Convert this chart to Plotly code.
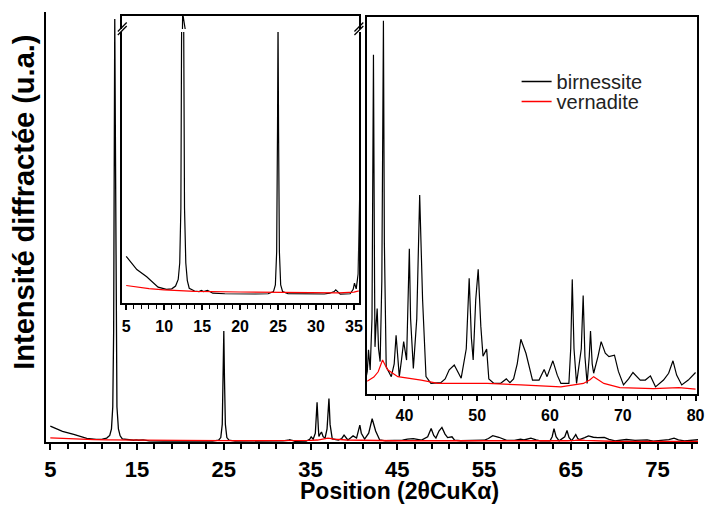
import plotly.graph_objects as go

# ---------------- data ----------------
birn_2theta = [5.0, 5.5, 6.4, 7.7, 8.5, 9.2, 10.3, 11.0, 11.5, 11.85, 12.05, 12.2, 12.3, 12.37,
               12.43, 12.5, 12.57, 12.68, 12.85, 13.05, 13.3, 14.0, 14.6, 14.9, 15.2, 15.7, 16.0,
               16.4, 18.0, 20.2, 22.0, 23.7, 24.4, 24.65, 24.82, 24.93, 25.0, 25.07, 25.18, 25.35,
               25.6, 26.3, 28.0, 31.1, 31.8, 32.4, 32.6, 32.8, 33.2, 34.5, 34.9, 35.07, 35.3, 35.55,
               35.75, 35.9, 35.96, 36.1, 36.26, 36.45, 36.67, 36.9, 37.05, 37.12, 37.25, 37.5, 38.2,
               38.6, 38.86, 39.1, 39.3, 39.6, 39.9, 40.3, 40.55, 40.68, 40.85, 41.23, 41.7, 42.1,
               42.5, 42.97, 43.65, 45.0, 45.6, 46.16, 46.85, 47.3, 47.8, 48.5, 48.9, 49.2, 49.45,
               49.8, 50.14, 50.5, 50.8, 51.3, 51.6, 52.3, 53.2, 54.0, 54.5, 55.0, 55.5, 56.0, 56.7,
               57.6, 58.5, 59.2, 59.6, 60.4, 61.0, 61.5, 62.6, 62.85, 63.06, 63.3, 63.65, 64.3,
               64.56, 64.8, 65.1, 65.4, 65.57, 65.8, 66.0, 66.6, 67.03, 67.6, 68.1, 68.86, 69.4,
               70.1, 70.8, 71.4, 72.4, 73.1, 73.8, 74.5, 75.6, 76.3, 76.9, 77.4, 78.1, 79.0, 80.0]
birn_intensity = [36, 32, 24, 17.5, 12, 8, 6, 6.5, 9, 15, 30, 80, 250, 700,
                  961, 700, 250, 80, 30, 14, 7, 4.5, 4, 5, 4, 5, 4,
                  2.5, 2, 1.6, 1.8, 2, 4, 10, 40, 150, 252, 150, 40, 10,
                  4, 2.2, 2, 1.8, 2.5, 4, 5.5, 4, 1.6, 2, 6, 11.7, 6.4, 20,
                  90, 30, 12.5, 18, 22.7, 12, 8.6, 30, 90, 99, 40, 7.2, 4.6,
                  8, 15.6, 8, 4.6, 9, 13.9, 9, 25, 38.5, 20, 6.8, 20, 52.8,
                  25, 4.6, 2.8, 3, 4, 6.4, 7.7, 6, 4.2, 12, 30.7, 15, 9,
                  25, 33.1, 18, 10, 11.9, 4, 2.8, 2.8, 4, 3, 4, 8, 14.5, 10.8,
                  3.7, 3.7, 6.5, 4.6, 8.8, 5, 2.8, 2.8, 12, 30.4, 12, 2.8, 12,
                  26.1, 10, 2.8, 10, 16.7, 8, 5.5, 10, 13.9, 10.8, 9.9, 10.3, 6,
                  2.4, 4, 5.7, 3.7, 3.7, 4.8, 1.9, 3.7, 5.5, 8.8, 5, 2.4, 3.7, 5.7]

vern_2theta = [5, 6, 7, 8, 10, 11.6, 14, 20, 25, 30, 33, 35, 35.8, 36.4, 37.0, 37.4, 37.7, 39.1,
               42.3, 44.6, 51.4, 56, 61.5, 64.6, 65.5, 66.0, 66.6, 67.4, 69.6, 74.2, 77.7, 80]
vern_intensity = [9.5, 8.5, 7.5, 6.6, 5.6, 4.8, 4.2, 3.6, 3.2, 2.9, 2.8, 3.5, 4.5, 5.9, 9.0, 7.5,
                  6.4, 4.6, 3.7, 2.8, 2.8, 2.4, 1.9, 2.8, 3.8, 4.6, 3.8, 2.8, 1.7, 1.4, 1.7, 1.3]

series_names = ["birnessite", "vernadite"]
series_colors = ["#000000", "#ff0000"]

main_xticks = [5, 15, 25, 35, 45, 55, 65, 75]
inset1_xticks = [5, 10, 15, 20, 25, 30, 35]
inset2_xticks = [40, 50, 60, 70, 80]

# ---------------- layout helpers ----------------
W, H = 706, 506


def px_x(p):
    return p / W


def px_y(p):
    return (H - p) / H


FONT = "Liberation Sans, Arial, sans-serif"

fig = go.Figure()

series = [(birn_2theta, birn_intensity), (vern_2theta, vern_intensity)]
legend_ids = ["legend", "legend2"]
axes_sets = [("x", "y", True), ("x2", "y2", False), ("x3", "y3", False), ("x4", "y4", False)]
for xa, ya, show in axes_sets:
    for (xs, ys), name, col, lg in zip(series, series_names, series_colors, legend_ids):
        fig.add_trace(go.Scatter(
            x=xs, y=ys, mode="lines", name=name, xaxis=xa, yaxis=ya,
            line=dict(color=col, width=1.3 if show else 1.2),
            showlegend=show, legend=lg, hoverinfo="skip"))

axis_common = dict(showgrid=False, zeroline=False, linecolor="black")
legend_common = dict(xanchor="left", yanchor="top",
                     font=dict(family=FONT, size=20, color="#222222"),
                     bgcolor="rgba(0,0,0,0)", itemwidth=30, tracegroupgap=0)

fig.update_layout(
    width=W, height=H,
    margin=dict(l=0, r=0, t=0, b=0),
    paper_bgcolor="white", plot_bgcolor="white",
    showlegend=True,
    legend=dict(x=px_x(522), y=px_y(62), **legend_common),
    legend2=dict(x=px_x(522), y=px_y(82), **legend_common),
    # main
    xaxis=dict(domain=[px_x(45), 1.0], range=[4.545, 79.66], anchor="y",
               showline=True, linewidth=2, mirror=False,
               tickmode="array", tickvals=main_xticks, ticktext=[str(v) for v in main_xticks],
               ticks="outside", ticklen=6, tickwidth=2, tickcolor="black",
               minor=dict(dtick=2, tick0=5, ticks="outside", ticklen=5, tickwidth=1.5, tickcolor="black"),
               tickfont=dict(family=FONT, size=22, color="black", weight="bold"),
               ticklabelstandoff=1, **axis_common),
    yaxis=dict(domain=[px_y(442), px_y(12)], range=[0, 977], anchor="x",
               showline=True, linewidth=2, showticklabels=False, ticks="", **axis_common),
    # inset 1 (lower part)
    xaxis2=dict(domain=[px_x(122), px_x(362)], range=[4.48, 35.65], anchor="y2",
                showline=True, linewidth=1.8, mirror=False,
                tickmode="array", tickvals=inset1_xticks, ticktext=[str(v) for v in inset1_xticks],
                ticks="outside", ticklen=5, tickwidth=1.5, tickcolor="black",
                minor=dict(dtick=1, tick0=0, ticks="outside", ticklen=4, tickwidth=1.2, tickcolor="black"),
                tickfont=dict(family=FONT, size=16, color="black", weight="bold"),
                ticklabelstandoff=3, ticklabeloverflow="allow", **axis_common),
    yaxis2=dict(domain=[px_y(303), px_y(32)], range=[-6.4, 240], anchor="x2",
                showline=True, linewidth=1.8, mirror=True, showticklabels=False, ticks="",
                **axis_common),
    # inset 1 (upper part, above the break)
    xaxis3=dict(domain=[px_x(122), px_x(362)], range=[4.48, 35.65], anchor="y3", side="top",
                showline=True, linewidth=1.8, showticklabels=False, ticks="", **axis_common),
    yaxis3=dict(domain=[px_y(29), px_y(16)], range=[880, 945], anchor="x3",
                showline=True, linewidth=1.8, mirror=True, showticklabels=False, ticks="",
                **axis_common),
    # inset 2
    xaxis4=dict(domain=[px_x(370), px_x(705)], range=[34.83, 80.2], anchor="y4",
                showline=True, linewidth=1.8, mirror=True,
                tickmode="array", tickvals=inset2_xticks, ticktext=[str(v) for v in inset2_xticks],
                ticks="outside", ticklen=5, tickwidth=1.5, tickcolor="black",
                minor=dict(dtick=2, tick0=0, ticks="outside", ticklen=4, tickwidth=1.2, tickcolor="black"),
                tickfont=dict(family=FONT, size=16, color="black", weight="bold"),
                ticklabelstandoff=1, ticklabeloverflow="allow", **axis_common),
    yaxis4=dict(domain=[px_y(394), px_y(17)], range=[0, 100], anchor="x4",
                showline=True, linewidth=1.8, mirror=True, showticklabels=False, ticks="",
                **axis_common),
)

# axis-break marks on inset 1
shapes = []
for cx in (122, 362):
    for off in (0, 3.5):
        shapes.append(dict(type="line", xref="paper", yref="paper",
                           x0=px_x(cx - 4.5), y0=px_y(33 + off - 1.5),
                           x1=px_x(cx + 4.5), y1=px_y(24 + off - 1.5),
                           line=dict(color="black", width=1.3)))
fig.update_layout(shapes=shapes)

fig.add_annotation(text="Intensité diffractée (u.a.)", xref="paper", yref="paper",
                   x=px_x(22), y=px_y(202), xanchor="center", yanchor="middle",
                   textangle=-90, showarrow=False,
                   font=dict(family=FONT, size=29, color="black", weight="bold"))
fig.add_annotation(text="Position (2θCuKα)", xref="paper", yref="paper",
                   x=px_x(403), y=px_y(491), xanchor="center", yanchor="middle",
                   showarrow=False,
                   font=dict(family=FONT, size=23, color="black", weight="bold"))

fig.write_html(
    "out.html", config={"displayModeBar": False},
    post_script=("document.documentElement.style.overflow='hidden';"
                 "document.body.style.overflow='hidden';"
                 "document.body.style.margin='0';"))
